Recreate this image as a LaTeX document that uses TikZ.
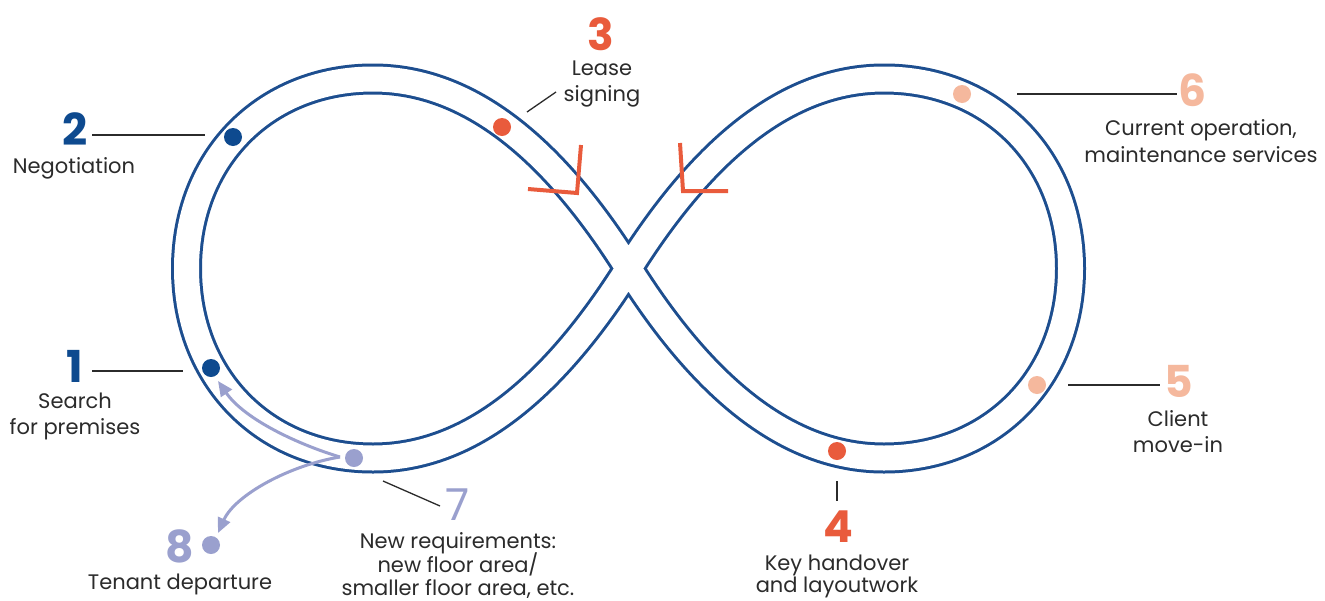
\documentclass[tikz,border=0pt]{standalone}
\usepackage{fontspec}
\setmainfont{Poppins}
\usetikzlibrary{arrows.meta}

\definecolor{band}{HTML}{1D4E8F}
\definecolor{navy}{HTML}{0E4A8F}
\definecolor{coral}{HTML}{E95B3C}
\definecolor{peach}{HTML}{F5B89D}
\definecolor{lilac}{HTML}{9AA0CE}
\definecolor{ink}{HTML}{2B2B2B}

\begin{document}
\begin{tikzpicture}[x=1pt,y=-1pt,
  dot/.style={circle,inner sep=0pt,minimum size=18pt,fill=#1},
  num/.style={text=#1,font=\fontsize{44}{44}\selectfont\bfseries,inner sep=0pt,anchor=base},
  thinnum/.style={text=#1,font=\fontsize{44}{44}\selectfont,inner sep=0pt,anchor=base},
  lbl/.style={text=ink,font=\fontsize{21}{24}\selectfont,inner sep=0pt,anchor=base},
  leader/.style={draw=ink,line width=1.3pt},
  chev/.style={draw=coral,line width=4pt,line join=miter},
  flow/.style={draw=lilac,line width=3pt,-{Triangle[length=15pt,width=13pt]}}
]
\fill[white] (0,0) rectangle (1325,600);
\useasboundingbox (0,0) rectangle (1325,600);

% the figure-eight band: one closed centre line drawn as a double stroke
\draw[draw=band,line width=3pt,double=white,double distance=25pt]
  (628.5,268.5) .. controls (554,150) and (470,79) .. (373,79)
  .. controls (265,79) and (186.5,158.5) .. (186.5,268.5)
  .. controls (186.5,378.5) and (265,458) .. (373,458)
  .. controls (470,458) and (554,387) .. (628.5,268.5)
  .. controls (703,150) and (787,79) .. (884,79)
  .. controls (992,79) and (1070.5,158.5) .. (1070.5,268.5)
  .. controls (1070.5,378.5) and (992,458) .. (884,458)
  .. controls (787,458) and (703,387) .. cycle;

% direction marks near the crossing
\draw[chev] (528,189) -- (577,193) -- (581,145);
\draw[chev] (728,191) -- (683,191) -- (680,143);

% stage dots
\node[dot=navy]  (d1) at (211,368) {};
\node[dot=navy]  (d2) at (233,137) {};
\node[dot=coral] (d3) at (502,127) {};
\node[dot=coral] (d4) at (837,451) {};
\node[dot=peach] (d5) at (1037,385) {};
\node[dot=peach] (d6) at (962,94) {};
\node[dot=lilac] (d7) at (354,458) {};
\node[dot=lilac] (d8) at (211,545) {};

% leader lines
\coordinate (l2a) at (92,135);   \coordinate (l2b) at (205,135);
\coordinate (l1a) at (92,371);   \coordinate (l1b) at (183,371);
\coordinate (l3a) at (527,112);  \coordinate (l3b) at (556,92);
\coordinate (l6a) at (1017,94);  \coordinate (l6b) at (1177,94);
\coordinate (l5a) at (1068,385); \coordinate (l5b) at (1160,385);
\coordinate (l4a) at (837,481);  \coordinate (l4b) at (837,501);
\coordinate (l7a) at (383,481);  \coordinate (l7b) at (440,506);
\draw[leader] (l2a) -- (l2b);
\draw[leader] (l1a) -- (l1b);
\draw[leader] (l3a) -- (l3b);
\draw[leader] (l6a) -- (l6b);
\draw[leader] (l5a) -- (l5b);
\draw[leader] (l4a) -- (l4b);
\draw[leader] (l7a) -- (l7b);

% arrows leaving stage 7
\coordinate (f7) at (340,457);
\coordinate (f1) at (218,381);
\coordinate (f8) at (218,533);
\draw[flow] (f7) .. controls (300,445) and (245,420) .. (f1);
\draw[flow] (f7) .. controls (290,465) and (235,495) .. (f8);

% numbers
\node[num=navy]  (n2) at (75,145) {2};
\node[num=navy]  (n1) at (75,382) {1};
\node[num=coral] (n3) at (601,50) {3};
\node[num=coral] (n4) at (838,542) {4};
\node[num=peach] (n5) at (1179,397) {5};
\node[num=peach] (n6) at (1192,106) {6};
\node[thinnum=lilac] (n7) at (458,520) {7};
\node[num=lilac] (n8) at (180,562) {8};

% captions
\node[lbl] (t2)  at (74,173)  {Negotiation};
\node[lbl] (t1a) at (75,408)  {Search};
\node[lbl] (t1b) at (75,434)  {for premises};
\node[lbl] (t3a) at (602,75)  {Lease};
\node[lbl] (t3b) at (602,101) {signing};
\node[lbl] (t6a) at (1201,135) {Current operation,};
\node[lbl] (t6b) at (1201,162) {maintenance services};
\node[lbl] (t5a) at (1178,426) {Client};
\node[lbl] (t5b) at (1178,452) {move-in};
\node[lbl] (t4a) at (837,570) {Key handover};
\node[lbl] (t4b) at (837,592) {and layoutwork};
\node[lbl] (t7a) at (458,548) {New requirements:};
\node[lbl] (t7b) at (458,572) {new floor area/};
\node[lbl] (t7c) at (458,595) {smaller floor area, etc.};
\node[lbl] (t8)  at (180,589) {Tenant departure};
\end{tikzpicture}
\end{document}
